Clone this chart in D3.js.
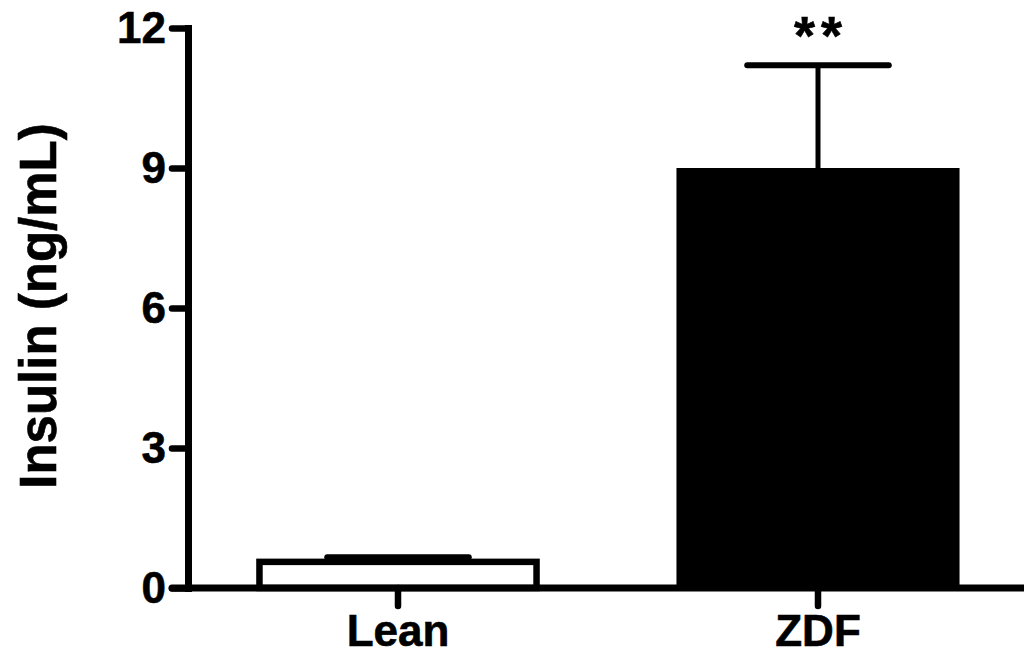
<!DOCTYPE html>
<html>
<head>
<meta charset="utf-8">
<script src="https://cdn.jsdelivr.net/npm/d3@7"></script>
<style>
  body { margin: 0; background: #fff; }
  text { font-family: "Liberation Sans", Arial, sans-serif; font-weight: bold; fill: #000; stroke: #000; stroke-width: 0.6px; }
</style>
</head>
<body>
<div id="chart"></div>
<script>
var groups = ['Lean', 'ZDF'];
var means = [0.56, 9.0];
var sems = [0.10, 2.2];
var signif = ['', '**'];
var yTicks = [0, 3, 6, 9, 12];
var yLabel = 'Insulin (ng/mL)';

var width = 1024, height = 655;

var svg = d3.select('#chart')
  .append('svg')
  .attr('width', width)
  .attr('height', height);

var y = d3.scaleLinear()
  .domain([0, 12])
  .range([588, 28]);

var x = d3.scaleBand()
  .domain(groups)
  .range([188, 1028])
  .paddingInner(0.326)
  .paddingOuter(0.163);

var data = groups.map(function (g, i) {
  return { name: g, mean: means[i], sem: sems[i], sig: signif[i] };
});

// bars
svg.selectAll('rect.bar')
  .data(data)
  .enter()
  .append('rect')
  .attr('class', 'bar')
  .attr('x', function (d, i) { return i == 0 ? x(d.name) + 3 : x(d.name); })
  .attr('width', function (d, i) { return i == 0 ? x.bandwidth() - 6 : x.bandwidth(); })
  .attr('y', function (d) { return y(d.mean); })
  .attr('height', function (d) { return y(0) - y(d.mean); })
  .attr('fill', function (d, i) { return i == 0 ? '#fff' : '#000'; })
  .attr('stroke', '#000')
  .attr('stroke-width', function (d, i) { return i == 0 ? 6.5 : 0; });

// error bars (upper only)
var err = svg.selectAll('g.err')
  .data(data)
  .enter()
  .append('g')
  .attr('class', 'err');

err.append('line')
  .attr('x1', function (d) { return x(d.name) + x.bandwidth() / 2; })
  .attr('x2', function (d) { return x(d.name) + x.bandwidth() / 2; })
  .attr('y1', function (d) { return y(d.mean); })
  .attr('y2', function (d) { return y(d.mean + d.sem); })
  .attr('stroke', '#000')
  .attr('stroke-width', 5);

err.append('line')
  .attr('x1', function (d) { return x(d.name) + x.bandwidth() / 4; })
  .attr('x2', function (d) { return x(d.name) + x.bandwidth() * 3 / 4; })
  .attr('y1', function (d) { return y(d.mean + d.sem); })
  .attr('y2', function (d) { return y(d.mean + d.sem); })
  .attr('stroke', '#000')
  .attr('stroke-width', 6)
  .attr('stroke-linecap', 'round');

// significance stars
svg.selectAll('text.sig')
  .data(data)
  .enter()
  .append('text')
  .attr('class', 'sig')
  .attr('x', function (d) { return x(d.name) + x.bandwidth() / 2 + 3; })
  .attr('y', 54)
  .attr('text-anchor', 'middle')
  .style('font-size', '54px')
  .style('letter-spacing', '6px')
  .text(function (d) { return d.sig; });

// y axis
var yAxis = svg.append('g')
  .attr('transform', 'translate(' + x.range()[0] + ',0)')
  .call(d3.axisLeft(y).tickValues(yTicks).tickSize(16).tickSizeOuter(0).tickPadding(6));

yAxis.select('.domain')
  .attr('stroke-width', 7)
  .attr('stroke-linecap', 'square');
yAxis.selectAll('.tick line')
  .attr('stroke-width', 6.5)
  .attr('stroke-linecap', 'round');
yAxis.selectAll('.tick text')
  .style('font-size', '44px')
  .style('font-family', '"Liberation Sans", Arial, sans-serif')
  .style('font-weight', 'bold');

// x axis
var xAxis = svg.append('g')
  .attr('transform', 'translate(0,' + y(0) + ')')
  .call(d3.axisBottom(x).tickSize(18).tickSizeOuter(0).tickPadding(9));

xAxis.select('.domain').remove();
xAxis.append('line')
  .attr('x1', x.range()[0] - 16)
  .attr('x2', width + 10)
  .attr('stroke', '#000')
  .attr('stroke-width', 7)
  .attr('stroke-linecap', 'round');
xAxis.selectAll('.tick line')
  .attr('stroke-width', 6.5)
  .attr('stroke-linecap', 'round');
xAxis.selectAll('.tick text')
  .style('font-size', '44px')
  .style('font-family', '"Liberation Sans", Arial, sans-serif')
  .style('font-weight', 'bold');

// y label
svg.append('text')
  .attr('transform', 'translate(56,306) rotate(-90)')
  .attr('text-anchor', 'middle')
  .style('font-size', '51px')
  .text(yLabel);
</script>
</body>
</html>
